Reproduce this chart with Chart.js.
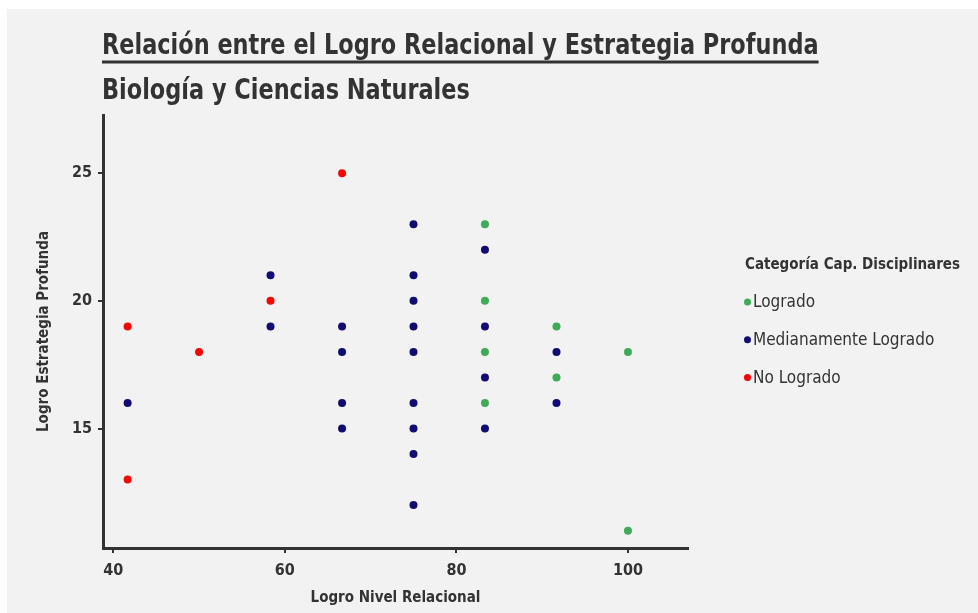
<!DOCTYPE html>
<html>
<head>
<meta charset="utf-8">
<script src="https://cdn.jsdelivr.net/npm/chart.js@4.4.0/dist/chart.umd.min.js"></script>
<style>
  html, body { margin: 0; padding: 0; background: #ffffff; }
  #wrap { width: 978px; height: 613px; }
</style>
</head>
<body>
<div id="wrap"><canvas id="myChart" width="978" height="613"></canvas></div>
<script>
// datos
var categorias = ['Logrado', 'Medianamente Logrado', 'No Logrado'];
var colores = ['#3FAA58', '#110C73', '#FF0000'];

var logradoX = [83.33, 83.33, 83.33, 83.33, 91.67, 91.67, 100, 100];
var logradoY = [23, 20, 18, 16, 19, 17, 18, 11];

var medianoX = [41.67, 58.33, 58.33, 66.67, 66.67, 66.67, 66.67,
                75, 75, 75, 75, 75, 75, 75, 75, 75,
                83.33, 83.33, 83.33, 83.33, 91.67, 91.67];
var medianoY = [16, 21, 19, 19, 18, 16, 15,
                23, 21, 20, 19, 18, 16, 15, 14, 12,
                22, 19, 17, 15, 18, 16];

var noLogradoX = [41.67, 41.67, 50, 58.33, 66.67];
var noLogradoY = [19, 13, 18, 20, 25];

var xTicks = [40, 60, 80, 100];
var yTicks = [15, 20, 25];

var titulo = 'Relación entre el Logro Relacional y Estrategia Profunda';
var subtitulo = 'Biología y Ciencias Naturales';
var tituloX = 'Logro Nivel Relacional';
var tituloY = 'Logro Estrategia Profunda';
var tituloLeyenda = 'Categoría Cap. Disciplinares';

var FAMILY = "'Liberation Sans Narrow', 'DejaVu Sans Condensed', 'Roboto', sans-serif";
var INK = '#333333';

function puntos(xs, ys) {
    return xs.map(function(x, i) { return {x: x, y: ys[i]}; });
}

var fondo = {
    id: 'fondo',
    beforeDraw: function(chart) {
        var c = chart.ctx;
        c.save();
        c.fillStyle = '#F2F2F2';
        c.fillRect(7, 9, chart.width - 7, chart.height - 9);
        c.restore();
    }
};

// titulo con subrayado + subtitulo (fuente un poco comprimida a lo ancho)
var titulos = {
    id: 'titulos',
    afterDraw: function(chart) {
        var c = chart.ctx;
        var x0 = 102;
        var sx = 0.89;
        c.save();
        c.fillStyle = INK;
        c.textAlign = 'left';
        c.textBaseline = 'alphabetic';
        c.font = 'bold 28px ' + FAMILY;
        var w = c.measureText(titulo).width * sx;
        c.fillRect(x0, 60.5, w, 3);
        c.translate(x0, 0);
        c.scale(sx, 1);
        c.fillText(titulo, 0, 54);
        c.fillText(subtitulo, 0, 99);
        c.restore();
    }
};

var leyenda = {
    id: 'leyenda',
    afterDraw: function(chart) {
        var c = chart.ctx;
        c.save();
        c.fillStyle = INK;
        c.textAlign = 'left';
        c.textBaseline = 'middle';
        c.font = 'bold 15px ' + FAMILY;
        c.fillText(tituloLeyenda, 745, 265);
        c.font = '17px ' + FAMILY;
        chart.data.datasets.forEach(function(ds, i) {
            var y = 302 + i * 37.8;
            c.fillStyle = ds.backgroundColor;
            c.beginPath();
            c.arc(747.5, y, 3.5, 0, Math.PI * 2);
            c.fill();
            c.fillStyle = INK;
            c.fillText(ds.label, 753, y + 1);
        });
        c.restore();
    }
};

var ctx = document.getElementById('myChart');
var myChart = new Chart(ctx, {
    type: 'scatter',
    data: {
        datasets: [
            { label: categorias[0], data: puntos(logradoX, logradoY), backgroundColor: colores[0] },
            { label: categorias[1], data: puntos(medianoX, medianoY), backgroundColor: colores[1] },
            { label: categorias[2], data: puntos(noLogradoX, noLogradoY), backgroundColor: colores[2] }
        ]
    },
    options: {
        responsive: false,
        animation: false,
        devicePixelRatio: 1,
        layout: { padding: { top: 115, right: 290, left: 34, bottom: 0 } },
        elements: { point: { radius: 4, hoverRadius: 4, borderWidth: 0 } },
        plugins: {
            legend: { display: false },
            title: { display: false },
            tooltip: { enabled: false }
        },
        scales: {
            x: {
                type: 'linear',
                min: 38.8,
                max: 107,
                afterFit: function(scale) { scale.height = 65; },
                afterBuildTicks: function(scale) {
                    scale.ticks = xTicks.map(function(v) { return {value: v}; });
                },
                border: { display: true, color: INK, width: 3 },
                grid: { display: true, drawOnChartArea: false, drawTicks: true, tickLength: 5, color: INK, lineWidth: 2 },
                ticks: { color: INK, padding: 8, font: { family: FAMILY, size: 16, weight: 'bold' } },
                title: {
                    display: true, text: tituloX, color: INK,
                    padding: { top: 0, bottom: 6 },
                    font: { family: FAMILY, size: 15, weight: 'bold' }
                }
            },
            y: {
                type: 'linear',
                min: 10.32,
                max: 27.28,
                afterFit: function(scale) { scale.width = 69; },
                afterBuildTicks: function(scale) {
                    scale.ticks = yTicks.map(function(v) { return {value: v}; });
                },
                border: { display: true, color: INK, width: 3 },
                grid: { display: true, drawOnChartArea: false, drawTicks: true, tickLength: 5, color: INK, lineWidth: 2 },
                ticks: { color: INK, padding: 6, font: { family: FAMILY, size: 16, weight: 'bold' } },
                title: {
                    display: true, text: tituloY, color: INK,
                    padding: { top: 1, bottom: 0 },
                    font: { family: FAMILY, size: 15, weight: 'bold' }
                }
            }
        }
    },
    plugins: [fondo, titulos, leyenda]
});
</script>
</body>
</html>
